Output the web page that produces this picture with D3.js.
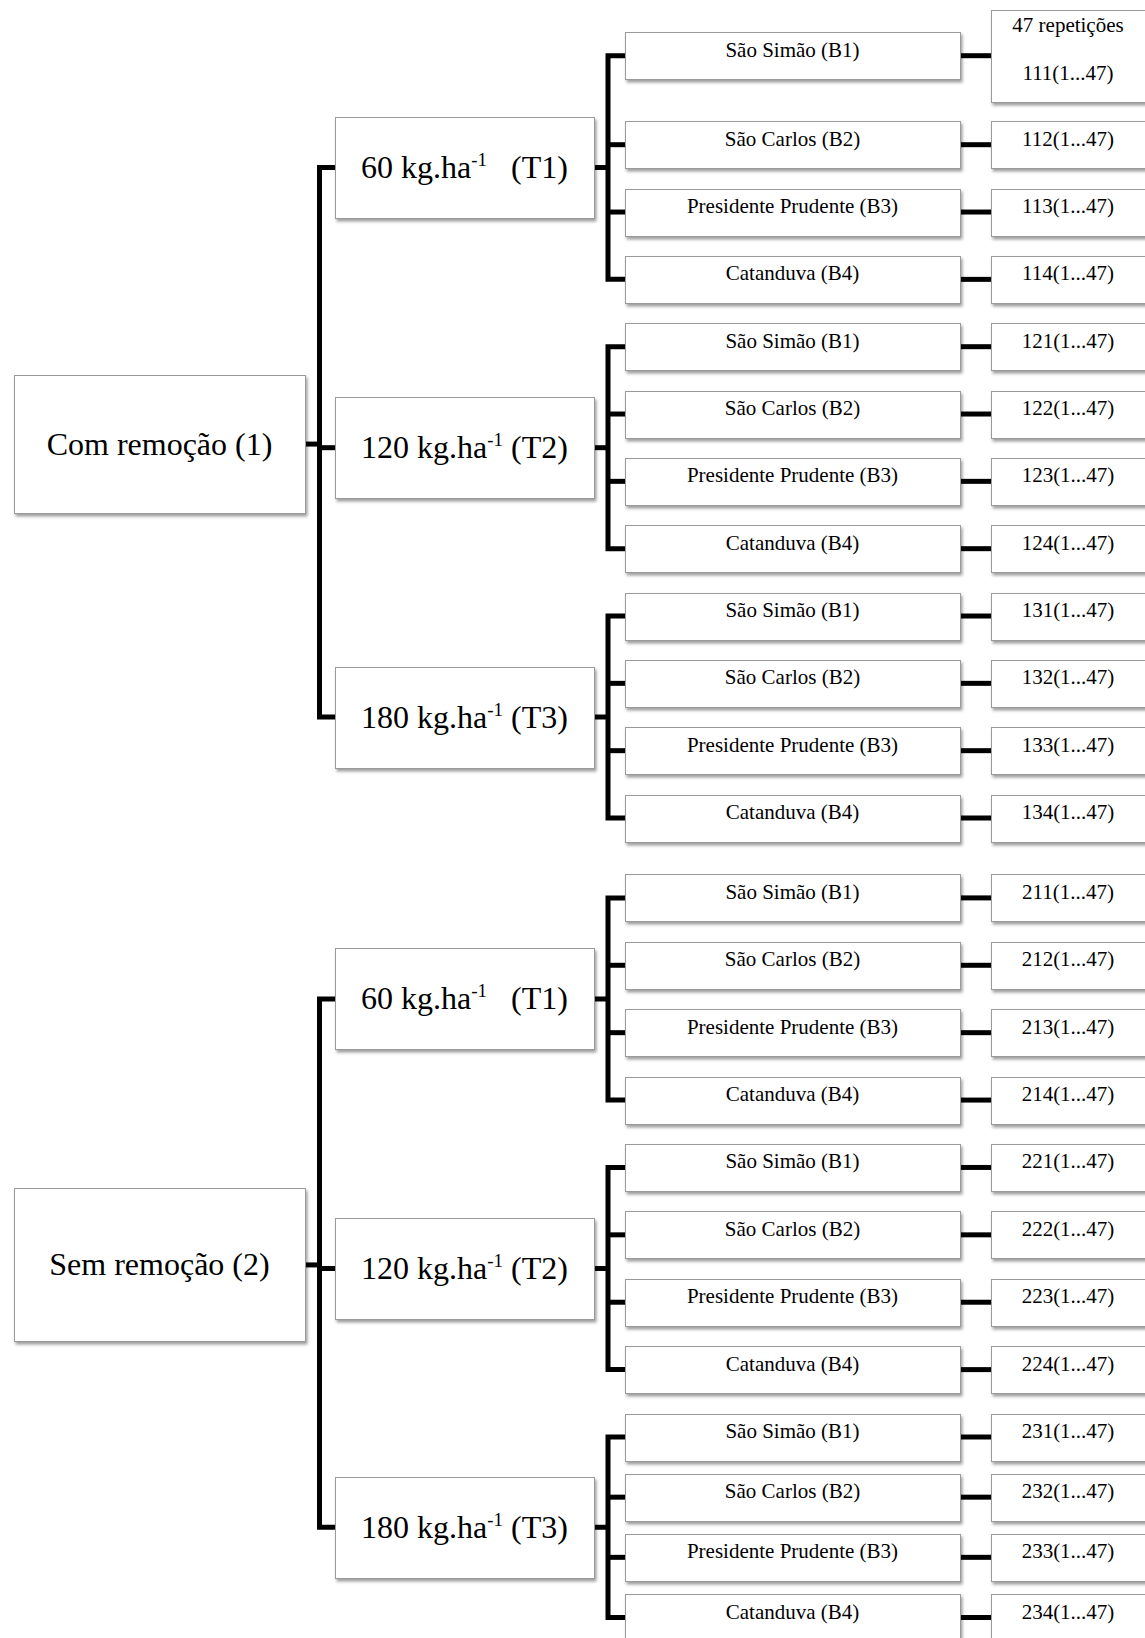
<!DOCTYPE html>
<html><head><meta charset="utf-8">
<script src="https://cdn.jsdelivr.net/npm/d3@7"></script>
<style>html,body{margin:0;padding:0;background:#fff;} svg{display:block;}</style>
</head><body><svg id="chart" width="1145" height="1638"></svg>
<script>
// ---- data ----
const groups = ["Com remoção (1)", "Sem remoção (2)"];
const doses = ["60", "120", "180"];
const doseUnit = "kg.ha";
const unitExponent = "-1";
const treatmentCodes = ["(T1)", "(T2)", "(T3)"];
const codeGaps = ["   ", " ", " "];
const blocks = ["São Simão (B1)", "São Carlos (B2)", "Presidente Prudente (B3)", "Catanduva (B4)"];
const repetitions = 47;
const repHeader = "47 repetições";

// ---- layout ----
const W = 1145, H = 1638;
const svg = d3.select("#chart");
const font = "'Liberation Serif','Times New Roman',serif";
const bigFont = 32, smallFont = 21;
const col = {
  l1: {x: 14, w: 291, h: [138, 153]},
  l2: {x: 335, w: 259, h: 101},
  l3: {x: 625, w: 335, h: 47},
  l4: {x: 991, w: 175, h: 47, hFirst: 92}
};
const bracket1X = 319.5, bracket2X = 608;
const lineW = 5;

const tree = {
  children: groups.map((g, gi) => ({
    name: g, level: 1,
    children: doses.map((d, ti) => ({
      dose: d, code: treatmentCodes[ti], gap: codeGaps[ti], level: 2,
      children: blocks.map((b, bi) => ({
        name: b, level: 3,
        rep: `${gi + 1}${ti + 1}${bi + 1}(1...${repetitions})`
      }))
    }))
  }))
};
const root = d3.hierarchy(tree);
const leaves = root.leaves();
// row position scale (polylinear)
const rowY = d3.scaleLinear()
  .domain([0, 1, 11, 12, 20, 23])
  .range([55.7, 144.7, 818, 897.9, 1437, 1617.5]);
leaves.forEach((l, i) => { l.cy = rowY(i); });
root.eachAfter(n => {
  if (!n.children) return;
  if (n.depth === 2) n.cy = (n.children[0].cy + n.children[n.children.length - 1].cy) / 2;
  else n.cy = d3.mean(n.children, c => c.cy);
});

// shadow filter
const defs = svg.append("defs");
const f = defs.append("filter").attr("id", "sh")
  .attr("x", "-5%").attr("y", "-20%").attr("width", "115%").attr("height", "150%");
f.append("feDropShadow").attr("dx", 1.5).attr("dy", 2.5).attr("stdDeviation", 1.4)
  .attr("flood-color", "#000").attr("flood-opacity", 0.38);

svg.append("rect").attr("width", W).attr("height", H).attr("fill", "#fff");

const lines = svg.append("g").attr("fill", "none").attr("stroke", "#000")
  .attr("stroke-width", lineW).attr("stroke-linejoin", "miter");
const boxes = svg.append("g");

function box(x, y, w, h) {
  return boxes.append("rect")
    .attr("x", Math.round(x) + 0.5).attr("y", Math.round(y) + 0.5)
    .attr("width", Math.round(w)).attr("height", Math.round(h))
    .attr("fill", "#fff").attr("stroke", "#9a9a9a").attr("stroke-width", 1)
    .attr("filter", "url(#sh)");
}
function label(x, y, size, text) {
  return boxes.append("text").attr("x", x).attr("y", y)
    .attr("text-anchor", "middle").attr("font-family", font)
    .attr("font-size", size).attr("fill", "#000")
    .style("white-space", "pre").text(text);
}

function bracket(parentRight, bx, parent, childLeft) {
  const kids = parent.children;
  const first = kids[0].cy, last = kids[kids.length - 1].cy;
  lines.append("path").attr("d", `M${parentRight},${parent.cy}H${bx}`);
  lines.append("path").attr("d", `M${childLeft},${first}H${bx}V${last}H${childLeft}`);
  kids.slice(1, -1).forEach(k => lines.append("path").attr("d", `M${bx},${k.cy}H${childLeft}`));
}

// level 1
root.children.forEach((g, gi) => {
  const gh = col.l1.h[gi];
  bracket(col.l1.x + col.l1.w, bracket1X, g, col.l2.x);
  box(col.l1.x, g.cy - gh / 2, col.l1.w, gh);
  label(col.l1.x + col.l1.w / 2, g.cy + 10.5, bigFont, g.data.name);
  // level 2
  g.children.forEach(t => {
    bracket(col.l2.x + col.l2.w, bracket2X, t, col.l3.x);
    box(col.l2.x, t.cy - col.l2.h / 2, col.l2.w, col.l2.h);
    const tx = label(col.l2.x + col.l2.w / 2, t.cy + 10.5, bigFont, null);
    tx.append("tspan").text(`${t.data.dose} ${doseUnit}`);
    tx.append("tspan").attr("dy", -12).attr("font-size", 19).text(unitExponent);
    tx.append("tspan").attr("dy", 12).text(`${t.data.gap}${t.data.code}`);
    // level 3 and 4
    t.children.forEach(b => {
      lines.append("path").attr("d", `M${col.l3.x + col.l3.w},${b.cy}H${col.l4.x}`);
      box(col.l3.x, b.cy - col.l3.h / 2, col.l3.w, col.l3.h);
      label(col.l3.x + col.l3.w / 2, b.cy + 1, smallFont, b.data.name);
      const isFirst = b === leaves[0];
      const rh = isFirst ? col.l4.hFirst : col.l4.h;
      box(col.l4.x, b.cy - rh / 2, col.l4.w, rh);
      const cx = col.l4.x + 77;
      if (isFirst) {
        label(cx, b.cy - 23.5, smallFont, repHeader);
        label(cx, b.cy + 24, smallFont, b.data.rep);
      } else {
        label(cx, b.cy + 1, smallFont, b.data.rep);
      }
    });
  });
});
</script></body></html>
